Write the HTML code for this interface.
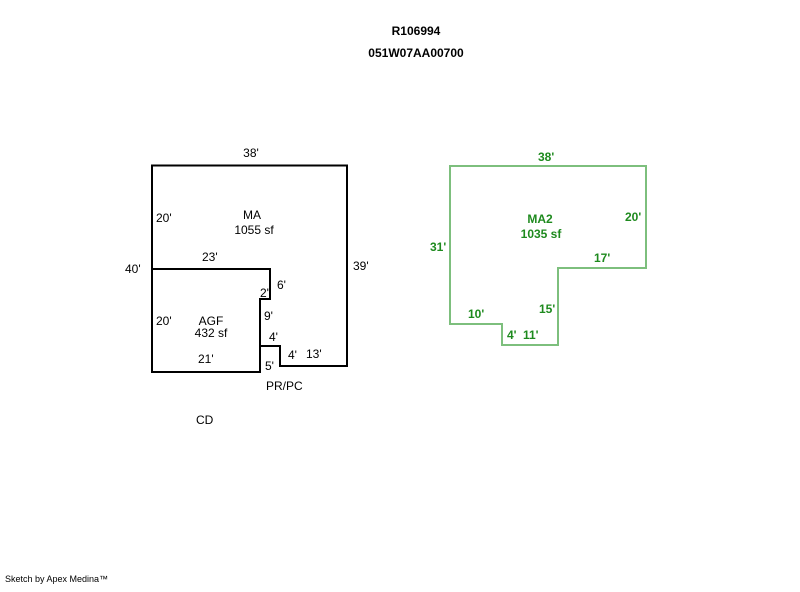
<!DOCTYPE html>
<html><head><style>
body{margin:0;background:#fff;width:800px;height:587px;overflow:hidden}
text{font-family:"Liberation Sans",sans-serif;font-size:12px}
.b{font-weight:bold}
.g{fill:#1e8a1e;font-weight:bold}
</style></head><body>
<svg width="800" height="587" xmlns="http://www.w3.org/2000/svg">
<text x="416" y="35" text-anchor="middle" class="b">R106994</text>
<text x="416" y="57" text-anchor="middle" class="b">051W07AA00700</text>
<g fill="none" stroke="#000" stroke-width="2">
<path d="M152,372 V165.5 H347 V366 H280 V346 H260 V372 Z"/>
<path d="M152,269 H270 V299 H260 V346"/>
</g>
<text x="251" y="157" text-anchor="middle">38'</text>
<text x="156" y="222">20'</text>
<text x="252" y="219" text-anchor="middle">MA</text>
<text x="254" y="234" text-anchor="middle">1055 sf</text>
<text x="125" y="273">40'</text>
<text x="202" y="261">23'</text>
<text x="353" y="270">39'</text>
<text x="277" y="289">6'</text>
<text x="260" y="297">2'</text>
<text x="264" y="320">9'</text>
<text x="156" y="325">20'</text>
<text x="211" y="325" text-anchor="middle">AGF</text>
<text x="211" y="337" text-anchor="middle">432 sf</text>
<text x="269" y="341">4'</text>
<text x="288" y="359">4'</text>
<text x="306" y="358">13'</text>
<text x="198" y="363">21'</text>
<text x="265" y="370">5'</text>
<text x="266" y="390">PR/PC</text>
<text x="196" y="424">CD</text>
<path d="M450,166 H646 V268 H558 V345 H502 V324 H450 Z" fill="none" stroke="#7dbf7d" stroke-width="2"/>
<text x="538" y="161" class="g">38'</text>
<text x="625" y="221" class="g">20'</text>
<text x="540" y="223" text-anchor="middle" class="g">MA2</text>
<text x="541" y="238" text-anchor="middle" class="g">1035 sf</text>
<text x="430" y="251" class="g">31'</text>
<text x="594" y="262" class="g">17'</text>
<text x="539" y="313" class="g">15'</text>
<text x="468" y="318" class="g">10'</text>
<text x="507" y="339" class="g">4'</text>
<text x="523" y="339" class="g">11'</text>
<text x="5" y="582" style="font-size:9px">Sketch by Apex Medina™</text>
</svg>
</body></html>
